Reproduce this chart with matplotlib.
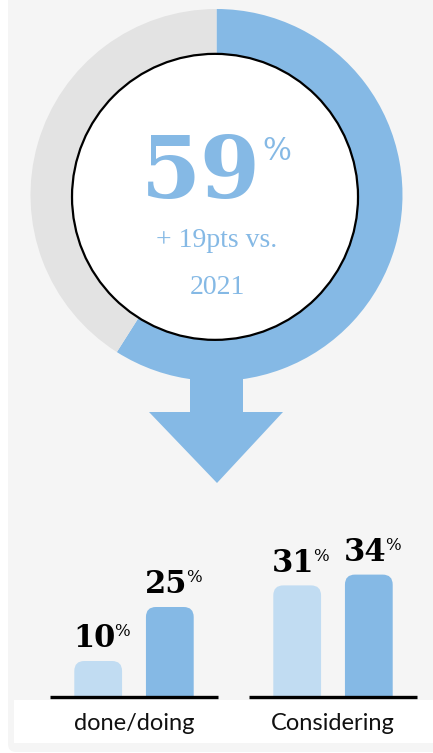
import matplotlib
matplotlib.use("Agg")
import matplotlib.pyplot as plt
from matplotlib.patches import Rectangle, Polygon, Circle, FancyBboxPatch

# ---- data ----
donut_labels = ["Yes", "Other"]
donut_values = [59, 41]
headline = "59"
subtitle_lines = ["+ 19pts vs.", "2021"]

categories = ["done/doing", "Considering"]
series_2021 = [10, 31]
series_2023 = [25, 34]

BLUE = "#85b9e5"
LIGHT = "#c1dcf2"
GRAY_RING = "#e3e3e3"
BG = "#f5f5f5"

W, H = 433, 753
fig = plt.figure(figsize=(W / 100, H / 100), dpi=100, facecolor="white")

# background axes in pixel coordinates
ax_bg = fig.add_axes([0, 0, 1, 1])
ax_bg.set_xlim(0, W)
ax_bg.set_ylim(H, 0)
ax_bg.axis("off")
ax_bg.add_patch(FancyBboxPatch((8, -20), W + 20, 772, boxstyle="round,pad=0,rounding_size=8",
                               facecolor=BG, edgecolor="none"))
ax_bg.add_patch(Rectangle((14, 700), W - 14, 43, facecolor="white", edgecolor="none"))
# arrow
ax_bg.add_patch(Polygon([(190, 360), (243, 360), (243, 412), (283, 412), (217, 483),
                         (149, 412), (190, 412)], closed=True, facecolor=BLUE, edgecolor="none"))

# donut axes
cx, cy, R = 216.5, 195, 186
ax_d = fig.add_axes([(cx - R) / W, 1 - (cy + R) / H, 2 * R / W, 2 * R / H])
ax_d.pie(donut_values, colors=[BLUE, GRAY_RING], startangle=90, counterclock=False,
         radius=1, wedgeprops=dict(linewidth=0))
ax_d.set_xlim(-1, 1)
ax_d.set_ylim(-1, 1)
ax_d.set_aspect("auto")
ax_d.axis("off")
ax_d.add_patch(Circle((-0.008, -0.01), 143 / R, facecolor="white", edgecolor="black",
                      linewidth=1.6, zorder=5))

# centre texts
fig.text(201, 174, headline, transform=ax_bg.transData, ha="center", va="center",
         fontsize=62, fontweight="bold", family="DejaVu Serif", color=BLUE)
fig.text(262, 136, "%", transform=ax_bg.transData, ha="left", va="top",
         fontsize=22, family="DejaVu Serif", color=BLUE)
fig.text(217, 240, subtitle_lines[0], transform=ax_bg.transData, ha="center", va="center",
         fontsize=20, family="Liberation Serif", color=BLUE)
fig.text(217, 287, subtitle_lines[1], transform=ax_bg.transData, ha="center", va="center",
         fontsize=20, family="Liberation Serif", color=BLUE)

# bars axes
base_px = 697
top_px = 500
px_per_unit = 3.6
group_px = 199
g0 = 134
ax_b = fig.add_axes([0, 1 - base_px / H, 1, (base_px - top_px) / H])
ax_b.set_xlim(-g0 / group_px, (W - g0) / group_px)
ax_b.set_ylim(0, (base_px - top_px) / px_per_unit)
ax_b.axis("off")
ax_b.patch.set_alpha(0)

bw = 0.24
off = 0.18
rx = 10 / group_px
aspect = group_px / px_per_unit
for i, cat in enumerate(categories):
    for val, dx, col in [(series_2021[i], -off, LIGHT), (series_2023[i], off, BLUE)]:
        x = i + dx
        p = FancyBboxPatch((x - bw / 2, -5), bw, val + 5,
                           boxstyle=f"round,pad=0,rounding_size={rx}",
                           mutation_aspect=aspect, facecolor=col, edgecolor="none")
        ax_b.add_patch(p)
        num = ax_b.annotate(str(val), xy=(x, val), xytext=(-3, 10), textcoords="offset points",
                            ha="center", va="baseline", fontsize=22, fontweight="bold",
                            family="DejaVu Serif", color="black", annotation_clip=False)
        ax_b.annotate("%", xy=(0.98, 1.0), xycoords=num, ha="left", va="top",
                      fontsize=12, family="DejaVu Serif", color="black")
    ax_b.hlines(0, i - 0.42, i + 0.42, color="black", linewidth=2.4, clip_on=False)
    fig.text(g0 + i * group_px, 723, cat, transform=ax_bg.transData, ha="center",
             va="center", fontsize=17, family="Lato", color="#111111")

fig.savefig("out.png", dpi=100, facecolor="white")
